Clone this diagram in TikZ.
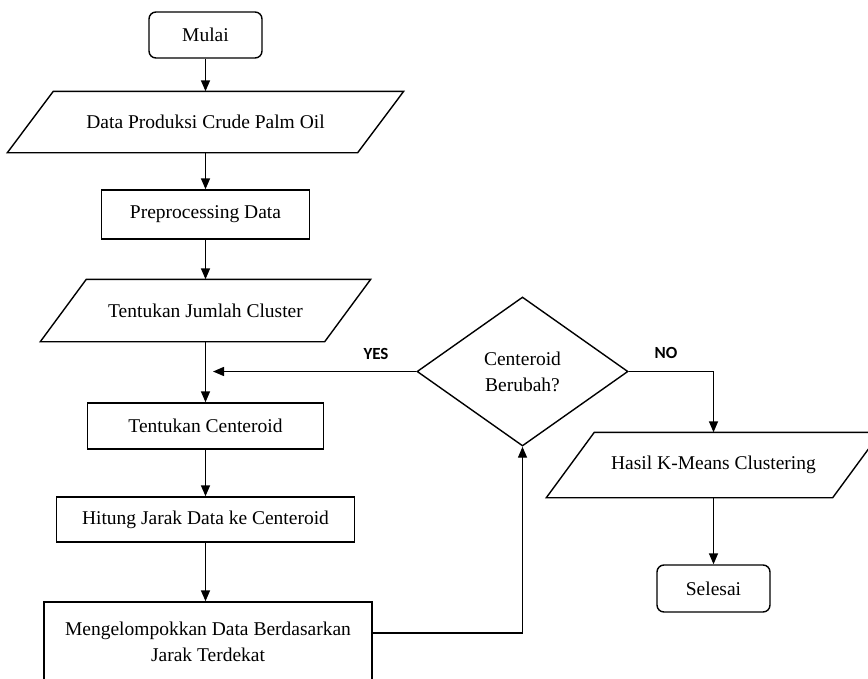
\documentclass[tikz,border=0pt]{standalone}
\usepackage{fontspec}
\setmainfont{Liberation Serif}
\newfontfamily\lblfont{Carlito}
\usetikzlibrary{shapes.geometric,arrows.meta,positioning}

\begin{document}
\begin{tikzpicture}[x=1pt,y=-1pt,
    base/.style={draw, line width=1.4pt, inner sep=0pt, align=center,
                 font=\fontsize{19.5}{26}\selectfont},
    term/.style={base, rounded corners=7pt},
    proc/.style={base, rectangle},
    io/.style={base, draw=none, rectangle},
    dec/.style={base, diamond},
    lbl/.style={font=\lblfont\bfseries\fontsize{17}{20}\selectfont},
    arr/.style={-{Triangle[length=11pt,width=9pt]}, line width=1.4pt}
  ]
    \useasboundingbox (0,0) rectangle (868,678);
    % Left column
    \node[term, minimum width=113, minimum height=46] (mulai) at (205.5,35) {Mulai};
    \node[io, minimum width=349, minimum height=60] (data) at (205.5,122) {Data Produksi Crude Palm Oil};
    \node[proc, minimum width=208, minimum height=49] (prep) at (205.5,214.5) {Preprocessing Data};
    \node[io, minimum width=283, minimum height=61] (jml) at (205.5,310.5) {Tentukan Jumlah Cluster};
    \node[proc, minimum width=236, minimum height=46] (cent) at (205.5,426) {Tentukan Centeroid};
    \node[proc, minimum width=298, minimum height=45] (hit) at (205.5,519.5) {Hitung Jarak Data ke Centeroid};
    \node[proc, minimum width=328, minimum height=80] (grp) at (208,642) {Mengelompokkan Data Berdasarkan\\Jarak Terdekat};
    % Decision
    \node[dec, minimum width=211, minimum height=149] (dec) at (522.5,371.5) {Centeroid\\Berubah?};
    % Right column
    \node[io, minimum width=285, minimum height=64] (hasil) at (713.5,465) {Hasil K-Means Clustering};
    \node[term, minimum width=113, minimum height=47] (selesai) at (713.5,588.5) {Selesai};
    % Parallelogram outlines for the io nodes
    \foreach \n/\s in {data/23, jml/23, hasil/24}
      \draw[line width=1.4pt] ([xshift=\s pt]\n.north west) -- ([xshift=\s pt]\n.north east)
        -- ([xshift=-\s pt]\n.south east) -- ([xshift=-\s pt]\n.south west) -- cycle;
    % Labels
    \node[lbl] (lyes) at (376,354) {YES};
    \node[lbl] (lno) at (666,353) {NO};
    % Arrows: main flow
    \draw[arr] (mulai) -- (data);
    \draw[arr] (data) -- (prep);
    \draw[arr] (prep) -- (jml);
    \draw[arr] (jml) -- (cent);
    \draw[arr] (cent) -- (hit);
    \draw[arr] (hit) -- (hit |- grp.north);
    % Arrows: loop back
    \draw[arr] ([yshift=9pt]grp.east) -| (dec.south);
    \coordinate (yesend) at (213,371.5);
    \draw[arr] (dec.west) -- (yesend);
    % Arrows: finish
    \draw[arr] (dec.east) -| (hasil.north);
    \draw[arr] (hasil) -- (selesai);
\end{tikzpicture}
\end{document}
